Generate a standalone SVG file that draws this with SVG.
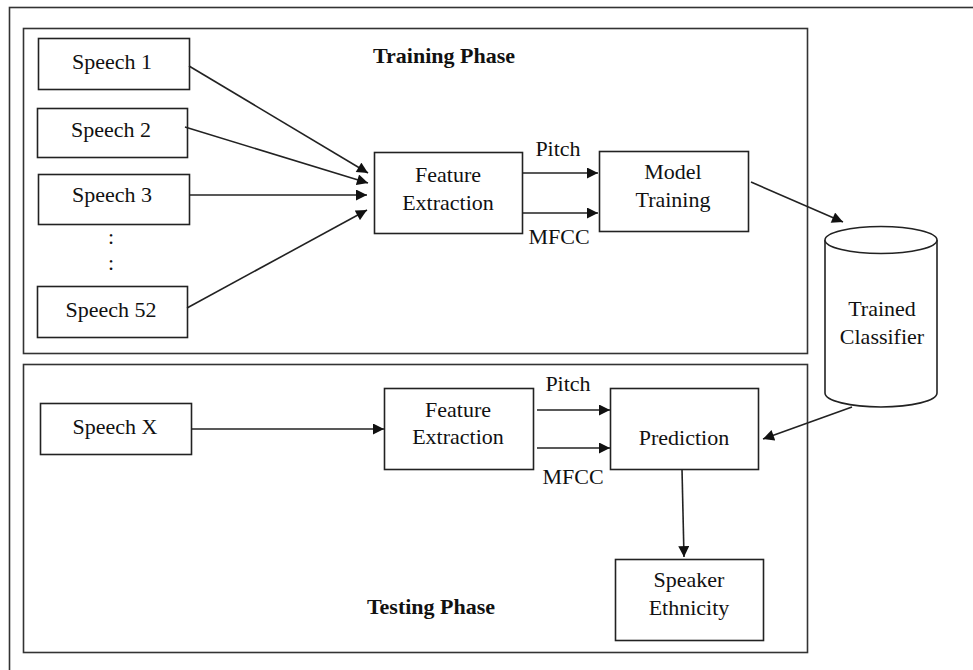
<svg xmlns="http://www.w3.org/2000/svg" width="973" height="670" viewBox="0 0 973 670">
<defs>
<style>
.box{fill:#fff;stroke:#222;stroke-width:1.6}
.frame{fill:none;stroke:#333;stroke-width:1.6}
.t{font-family:"Liberation Serif","Times New Roman",serif;font-size:22px;fill:#111;text-anchor:middle}
.b{font-weight:bold}
.c{stroke:#222;stroke-width:1.6;fill:none;marker-end:url(#ah)}
</style>
<marker id="ah" viewBox="0 0 10 10" refX="10" refY="5" markerWidth="12" markerHeight="11" markerUnits="userSpaceOnUse" orient="auto">
<path d="M0,0 L10,5 L0,10 z" fill="#111"/>
</marker>
</defs>
<rect width="973" height="670" fill="#fff"/>
<rect x="9.5" y="7.5" width="980" height="680" class="frame"/>
<g id="training-phase">
<rect x="23.5" y="28.5" width="784" height="325" class="frame"/>
<text x="444" y="63" class="t b">Training Phase</text>
</g>
<g id="testing-phase">
<rect x="23.5" y="364.5" width="784" height="288" class="frame"/>
<text x="431" y="614" class="t b">Testing Phase</text>
</g>
<g id="speech1"><rect x="38.5" y="38.5" width="151" height="51" class="box"/><text x="112" y="69" class="t">Speech 1</text></g>
<g id="speech2"><rect x="37.5" y="108.5" width="150" height="49" class="box"/><text x="111" y="137" class="t">Speech 2</text></g>
<g id="speech3"><rect x="38.5" y="174.5" width="151" height="50" class="box"/><text x="112" y="202" class="t">Speech 3</text></g>
<g id="dots"><text x="111" y="244" class="t">:</text><text x="111" y="270" class="t">:</text></g>
<g id="speech52"><rect x="37.5" y="286.5" width="150" height="51" class="box"/><text x="111" y="317" class="t">Speech 52</text></g>
<g id="fe-train"><rect x="374.5" y="152.5" width="148" height="81" class="box"/><text x="448" y="182" class="t">Feature</text><text x="448" y="210" class="t">Extraction</text></g>
<g id="model-training"><rect x="599.5" y="151.5" width="149" height="80" class="box"/><text x="673" y="179" class="t">Model</text><text x="673" y="207" class="t">Training</text></g>
<g id="classifier">
<path d="M825,240 L825,393 A56,14 0 0 0 937,393 L937,240" class="box"/>
<ellipse cx="881" cy="240" rx="56" ry="13.5" class="box"/>
<text x="882" y="316" class="t">Trained</text><text x="882" y="344" class="t">Classifier</text>
</g>
<g id="speechx"><rect x="40.5" y="403.5" width="151" height="51" class="box"/><text x="115" y="434" class="t">Speech X</text></g>
<g id="fe-test"><rect x="384.5" y="388.5" width="149" height="81" class="box"/><text x="458" y="417" class="t">Feature</text><text x="458" y="444" class="t">Extraction</text></g>
<g id="prediction"><rect x="610.5" y="388.5" width="148" height="81" class="box"/><text x="684" y="445" class="t">Prediction</text></g>
<g id="ethnicity"><rect x="615.5" y="559.5" width="148" height="81" class="box"/><text x="689" y="587" class="t">Speaker</text><text x="689" y="615" class="t">Ethnicity</text></g>
<g id="labels">
<text x="558" y="156" class="t">Pitch</text>
<text x="559" y="244" class="t">MFCC</text>
<text x="568" y="391" class="t">Pitch</text>
<text x="573" y="484" class="t">MFCC</text>
</g>
<g id="connectors">
<line x1="189" y1="66" x2="368" y2="173" class="c"/>
<line x1="185" y1="127" x2="368" y2="183" class="c"/>
<line x1="189" y1="195" x2="367" y2="195" class="c"/>
<line x1="187" y1="308" x2="367" y2="210" class="c"/>
<line x1="522" y1="173" x2="598" y2="173" class="c"/>
<line x1="522" y1="213" x2="598" y2="213" class="c"/>
<line x1="751" y1="182" x2="843" y2="222" class="c"/>
<line x1="191" y1="429" x2="384" y2="429" class="c"/>
<line x1="537" y1="410" x2="610" y2="410" class="c"/>
<line x1="537" y1="448" x2="610" y2="448" class="c"/>
<line x1="852" y1="407" x2="763" y2="439" class="c"/>
<line x1="682" y1="469" x2="684" y2="557" class="c"/>
</g>
</svg>
